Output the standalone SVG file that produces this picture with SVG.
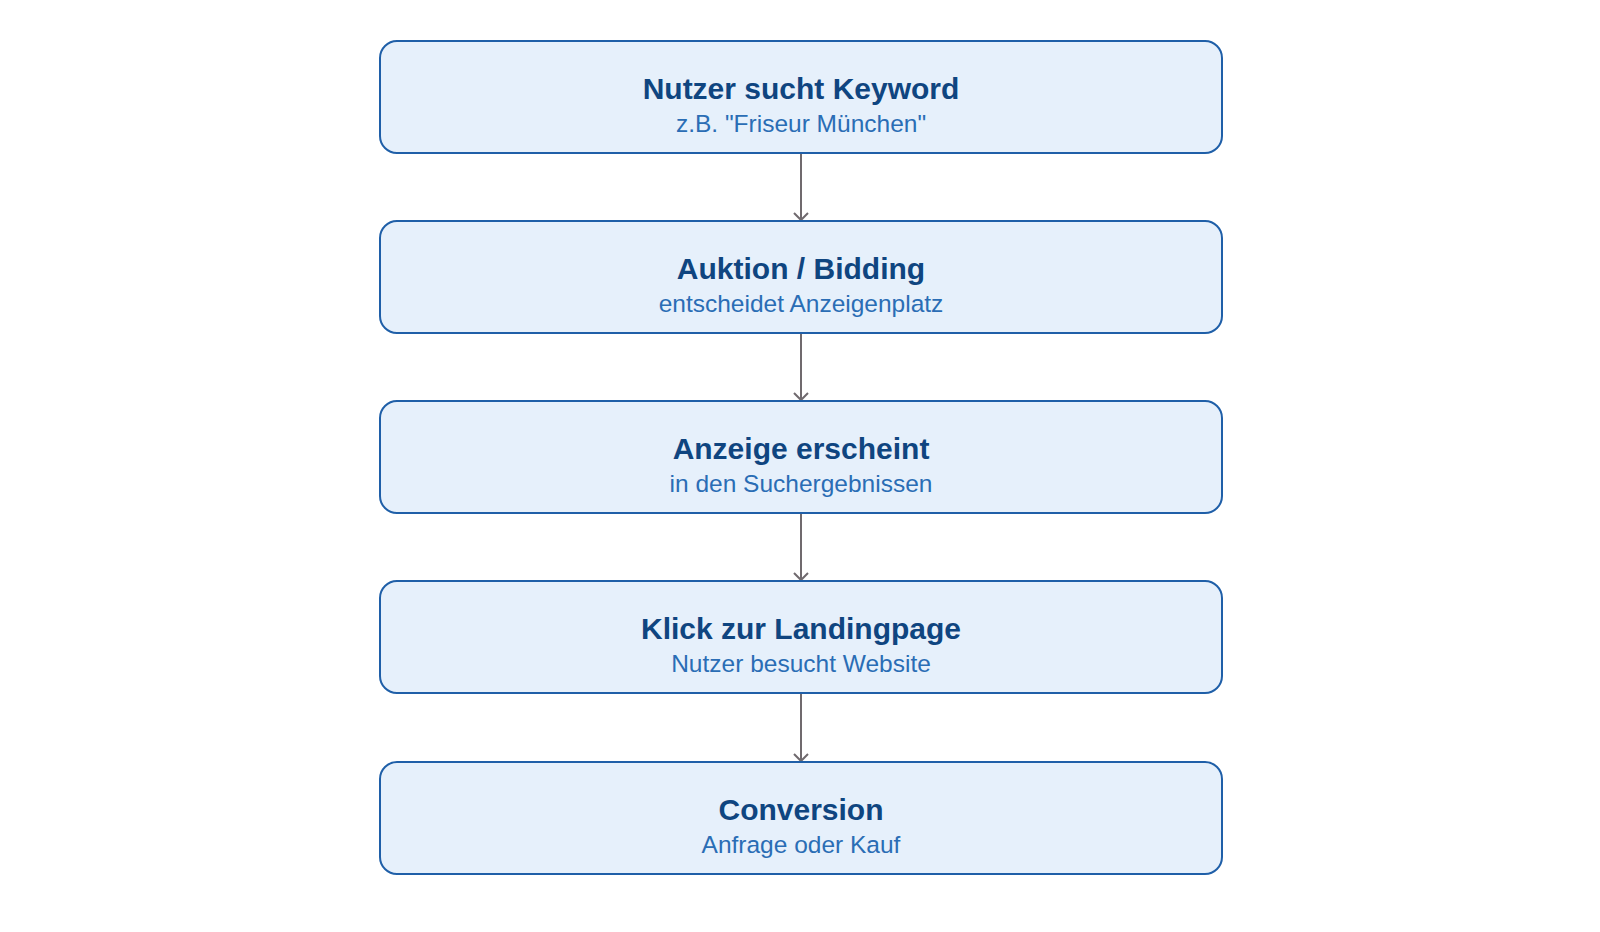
<svg xmlns="http://www.w3.org/2000/svg" width="1600" height="932" viewBox="0 0 1600 932">
<style>
.box{fill:#e6f0fb;stroke:#1f5fa8;stroke-width:2}
.t{font-family:"Liberation Sans",Arial,sans-serif;font-weight:bold;font-size:30px;fill:#0f4580;text-anchor:middle}
.s{font-family:"Liberation Sans",Arial,sans-serif;font-size:24.5px;fill:#2a6db5;text-anchor:middle}
.c{stroke:#706a6e;stroke-width:2;fill:none}
</style>
<defs><marker id="a" markerWidth="16" markerHeight="16" refX="8" refY="8" markerUnits="userSpaceOnUse" orient="auto"><path d="M1,1 L8,8 L1,15" fill="none" stroke="#706a6e" stroke-width="2"/></marker></defs>
<rect width="1600" height="932" fill="#fff"/>
<g id="connectors">
<line class="c" x1="801" y1="153" x2="801" y2="220" marker-end="url(#a)"/>
<line class="c" x1="801" y1="333" x2="801" y2="400" marker-end="url(#a)"/>
<line class="c" x1="801" y1="513" x2="801" y2="580" marker-end="url(#a)"/>
<line class="c" x1="801" y1="693" x2="801" y2="761" marker-end="url(#a)"/>
</g>
<g id="n1"><rect class="box" x="380" y="41" width="842" height="112" rx="17"/><text class="t" x="801" y="99">Nutzer sucht Keyword</text><text class="s" x="801" y="132">z.B. "Friseur München"</text></g>
<g id="n2"><rect class="box" x="380" y="221" width="842" height="112" rx="17"/><text class="t" x="801" y="279">Auktion / Bidding</text><text class="s" x="801" y="312">entscheidet Anzeigenplatz</text></g>
<g id="n3"><rect class="box" x="380" y="401" width="842" height="112" rx="17"/><text class="t" x="801" y="459">Anzeige erscheint</text><text class="s" x="801" y="492">in den Suchergebnissen</text></g>
<g id="n4"><rect class="box" x="380" y="581" width="842" height="112" rx="17"/><text class="t" x="801" y="639">Klick zur Landingpage</text><text class="s" x="801" y="672">Nutzer besucht Website</text></g>
<g id="n5"><rect class="box" x="380" y="762" width="842" height="112" rx="17"/><text class="t" x="801" y="820">Conversion</text><text class="s" x="801" y="853">Anfrage oder Kauf</text></g>
</svg>
